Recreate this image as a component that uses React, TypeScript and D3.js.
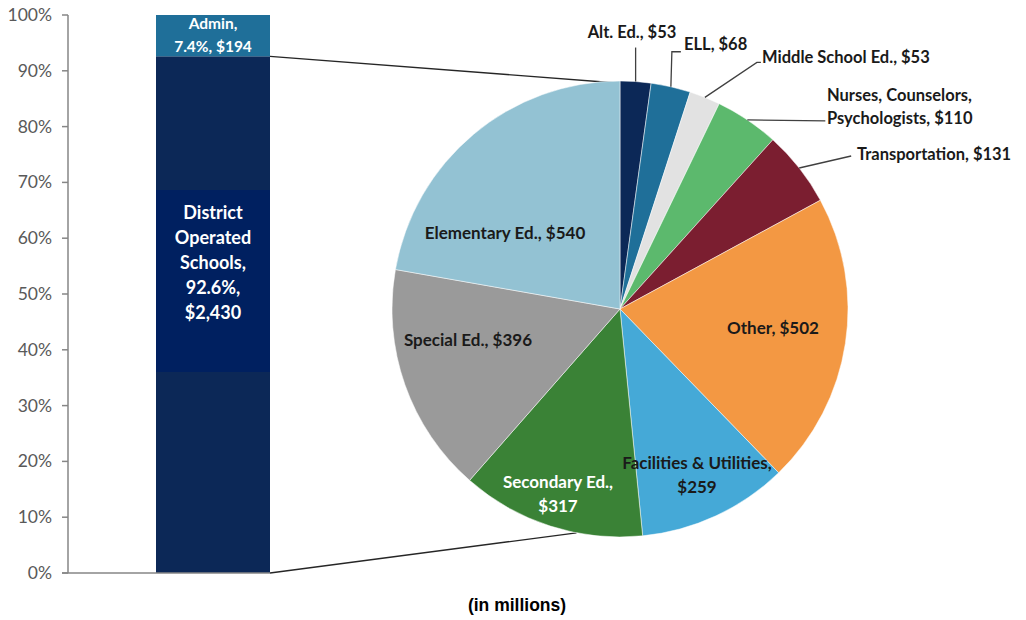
import React from "react";
import * as d3 from "d3";

// ---- Data ----
const barCategories = ["District Operated Schools", "Admin"];
const barShares = [0.926, 0.074];
const barValues = ["$2,430", "$194"];
const barShareLabels = ["92.6%", "7.4%"];
const barColors = ["#0c2857", "#1f6f99"];

const pieCategories = [
  "Alt. Ed.",
  "ELL",
  "Middle School Ed.",
  "Nurses, Counselors, Psychologists",
  "Transportation",
  "Other",
  "Facilities & Utilities",
  "Secondary Ed.",
  "Special Ed.",
  "Elementary Ed.",
];
const pieValues = [53, 68, 53, 110, 131, 502, 259, 317, 396, 540];
const pieColors = [
  "#0c2857",
  "#1f6f99",
  "#e2e2e2",
  "#5cb96d",
  "#7b1e30",
  "#f39843",
  "#45a9d7",
  "#3a8236",
  "#9a9a9a",
  "#93c2d3",
];

const yTicks = [0, 0.1, 0.2, 0.3, 0.4, 0.5, 0.6, 0.7, 0.8, 0.9, 1.0];

// ---- Layout (styles / positions for annotations) ----
const W = 1026;
const H = 620;
const FONT = "Lato, 'Open Sans', sans-serif";

type LabelLayout = {
  lines: string[];
  x: number;
  y: number;
  anchor?: string;
  color?: string;
  size: number;
  gap: number;
  leader?: [number, number][];
};

export default function App() {
  const y = d3.scaleLinear().domain([0, 1]).range([573, 15]);
  const barX0 = 156;
  const barX1 = 270;
  const axisX = 68;

  const cx = 620;
  const cy = 309;
  const R = 228;

  const pie = d3
    .pie<number>()
    .sort(null)
    .value((d) => d)
    .startAngle(0)
    .endAngle(2 * Math.PI);
  const arcs = pie(pieValues);
  const arc = d3.arc<d3.PieArcDatum<number>>().innerRadius(0).outerRadius(R);

  const polar = (a: number, r: number): [number, number] => [
    cx + r * Math.sin(a),
    cy - r * Math.cos(a),
  ];

  const fmt = (v: number) => "$" + d3.format(",")(v);
  const short = (i: number) => pieCategories[i].split(", ");

  const layouts: LabelLayout[] = [
    { lines: [`${pieCategories[0]}, ${fmt(pieValues[0])}`], x: 632, y: 38, anchor: "middle", size: 16.5, gap: 22, leader: [[0, -34]] },
    { lines: [`${pieCategories[1]}, ${fmt(pieValues[1])}`], x: 684, y: 50, anchor: "start", size: 16.5, gap: 22, leader: [[1, -35], [10, -35]] },
    { lines: [`${pieCategories[2]}, ${fmt(pieValues[2])}`], x: 762, y: 63, anchor: "start", size: 16.5, gap: 22, leader: [[52, -35], [56, -35]] },
    { lines: [`${short(3)[0]}, ${short(3)[1]},`, `${short(3)[2]}, ${fmt(pieValues[3])}`], x: 827, y: 101, anchor: "start", size: 16.5, gap: 22.5, leader: [[78, 1]] },
    { lines: [`${pieCategories[4]}, ${fmt(pieValues[4])}`], x: 857, y: 160, anchor: "start", size: 16.5, gap: 22, leader: [[52, -12]] },
    { lines: [`${pieCategories[5]}, ${fmt(pieValues[5])}`], x: 773, y: 334, anchor: "middle", size: 17, gap: 24 },
    { lines: [`${pieCategories[6]},`, fmt(pieValues[6])], x: 697, y: 469, anchor: "middle", size: 17, gap: 24 },
    { lines: [`${pieCategories[7]},`, fmt(pieValues[7])], x: 558, y: 488, anchor: "middle", size: 17, gap: 23.5, color: "#ffffff" },
    { lines: [`${pieCategories[8]}, ${fmt(pieValues[8])}`], x: 468, y: 346, anchor: "middle", size: 17, gap: 24 },
    { lines: [`${pieCategories[9]}, ${fmt(pieValues[9])}`], x: 505, y: 239, anchor: "middle", size: 17, gap: 24 },
  ];

  const segs = barShares.map((s, i) => {
    const start = d3.sum(barShares.slice(0, i));
    return { y0: y(start), y1: y(start + s), color: barColors[i], i };
  });

  const topConnector = polar(arcs[0].startAngle, R);
  const bottomConnector = polar((191 * Math.PI) / 180, R);
  const bx = (barX0 + barX1) / 2;

  return (
    <svg width={W} height={H} style={{ position: "absolute", left: 0, top: 0, background: "#fff" }}>
      {/* connector lines */}
      <line x1={barX1} y1={segs[0].y1} x2={topConnector[0] - 3} y2={topConnector[1] + 2} stroke="#262626" strokeWidth={1.3} />
      <line x1={barX1} y1={y(0)} x2={bottomConnector[0]} y2={bottomConnector[1]} stroke="#262626" strokeWidth={1.3} />

      {/* bar */}
      {segs.map((s) => (
        <rect key={s.i} x={barX0} y={s.y1} width={barX1 - barX0} height={s.y0 - s.y1} fill={s.color} />
      ))}
      <rect x={barX0} y={190} width={barX1 - barX0} height={182} fill="#002060" />
      <text textAnchor="middle" fill="#fff" fontFamily={FONT} fontWeight={700} fontSize={15.5}>
        <tspan x={bx} y={29}>{barCategories[1]},</tspan>
        <tspan x={bx} y={52}>{`${barShareLabels[1]}, ${barValues[1]}`}</tspan>
      </text>
      <text textAnchor="middle" fill="#fff" fontFamily={FONT} fontWeight={700} fontSize={18}>
        {["District", "Operated", "Schools,", `${barShareLabels[0]},`, barValues[0]].map((t, k) => (
          <tspan key={k} x={bx} y={219 + k * 25}>{t}</tspan>
        ))}
      </text>

      {/* axis */}
      <line x1={axisX} y1={y(1)} x2={axisX} y2={y(0)} stroke="#868686" strokeWidth={1.5} />
      <line x1={axisX - 6} y1={y(0)} x2={barX1} y2={y(0)} stroke="#868686" strokeWidth={1.5} />
      {yTicks.map((t) => (
        <g key={t}>
          <line x1={axisX - 6} x2={axisX} y1={y(t)} y2={y(t)} stroke="#868686" strokeWidth={1.5} />
          <text x={52} y={y(t) + 6} textAnchor="end" fill="#595959" fontFamily={FONT} fontSize={17.5}>
            {d3.format(".0%")(t)}
          </text>
        </g>
      ))}

      {/* pie */}
      <g transform={`translate(${cx},${cy})`}>
        {arcs.map((a, i) => (
          <path key={i} d={arc(a) || ""} fill={pieColors[i]} stroke="#fff" strokeWidth={0.5} />
        ))}
      </g>

      {/* pie labels */}
      {arcs.map((a, i) => {
        const L = layouts[i];
        const mid = (a.startAngle + a.endAngle) / 2;
        const p = polar(mid, R);
        const leaderPts: [number, number][] = L.leader
          ? [p, ...L.leader.map(([dx, dy]) => [p[0] + dx, p[1] + dy] as [number, number])]
          : [];
        return (
          <g key={i}>
            {leaderPts.length > 0 && (
              <path d={d3.line()(leaderPts) || ""} fill="none" stroke="#404040" strokeWidth={1.3} />
            )}
            <text textAnchor={L.anchor} fill={L.color || "#1a1a1a"} fontFamily={FONT} fontWeight={700} fontSize={L.size}>
              {L.lines.map((t, k) => (
                <tspan key={k} x={L.x} y={L.y + k * L.gap}>{t}</tspan>
              ))}
            </text>
          </g>
        );
      })}

      <text x={517} y={611} textAnchor="middle" fill="#000" fontFamily="'Liberation Sans', Arial, sans-serif" fontWeight={700} fontSize={17.5}>
        (in millions)
      </text>
    </svg>
  );
}
